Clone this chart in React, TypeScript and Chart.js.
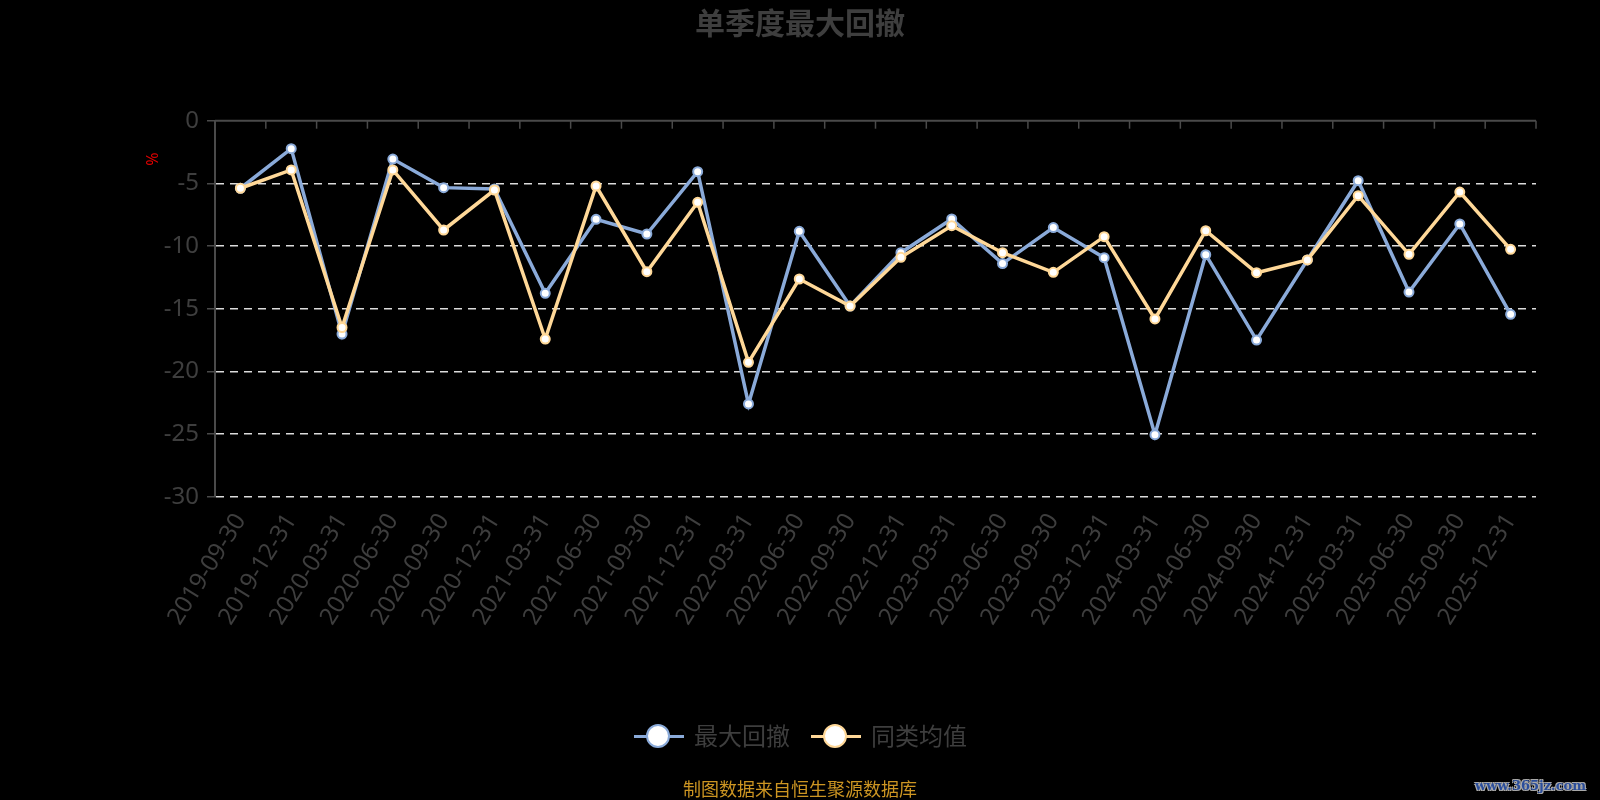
import React, { useEffect, useRef } from 'react';
import { Chart, registerables } from 'chart.js';

Chart.register(...registerables);

const categories: string[] = [
  '2019-09-30', '2019-12-31', '2020-03-31', '2020-06-30', '2020-09-30', '2020-12-31',
  '2021-03-31', '2021-06-30', '2021-09-30', '2021-12-31', '2022-03-31', '2022-06-30',
  '2022-09-30', '2022-12-31', '2023-03-31', '2023-06-30', '2023-09-30', '2023-12-31',
  '2024-03-31', '2024-06-30', '2024-09-30', '2024-12-31', '2025-03-31', '2025-06-30',
  '2025-09-30', '2025-12-31',
];

const maxDrawdown: number[] = [
  -5.39, -2.23, -17.02, -3.06, -5.34, -5.45, -13.77, -7.87, -9.04, -4.07, -22.6, -8.83,
  -14.79, -10.53, -7.84, -11.4, -8.53, -10.93, -25.05, -10.69, -17.5, -11.11, -4.79, -13.67,
  -8.24, -15.45,
];

const peerAverage: number[] = [
  -5.39, -3.93, -16.5, -3.93, -8.72, -5.53, -17.42, -5.21, -12.05, -6.51, -19.28, -12.63,
  -14.79, -10.9, -8.38, -10.53, -12.1, -9.25, -15.82, -8.78, -12.13, -11.11, -5.98, -10.66,
  -5.69, -10.26,
];

const seriesNames: string[] = ['最大回撤', '同类均值'];
const yMin = -30;
const yMax = 0;
const yStep = 5;

const BLUE = '#8aaad9';
const ORANGE = '#ffd898';
const AXIS = '#4a4a4a';
const TEXT = '#3e3e3e';
const FONT = "'Noto Sans', 'Noto Sans CJK SC', sans-serif";

const zeroAxisPlugin = {
  id: 'zeroAxis',
  beforeDatasetsDraw(chart: any) {
    const { ctx, chartArea, scales } = chart;
    const x = scales.x;
    const y = scales.y;
    const y0 = y.getPixelForValue(0);
    ctx.save();
    ctx.strokeStyle = AXIS;
    ctx.lineWidth = 2;
    ctx.setLineDash([]);
    ctx.beginPath();
    ctx.moveTo(chartArea.left, y0);
    ctx.lineTo(chartArea.right, y0);
    ctx.stroke();
    const half = (x.getPixelForValue(1) - x.getPixelForValue(0)) / 2;
    ctx.lineWidth = 1.5;
    for (let i = 0; i <= categories.length; i++) {
      const px = i < categories.length ? x.getPixelForValue(i) - half : x.getPixelForValue(i - 1) + half;
      ctx.beginPath();
      ctx.moveTo(px, y0);
      ctx.lineTo(px, y0 + 8);
      ctx.stroke();
    }
    ctx.restore();
  },
};

export default function App() {
  const canvasRef = useRef<HTMLCanvasElement | null>(null);

  useEffect(() => {
    document.body.style.margin = '0';
    document.body.style.background = '#000';
    const canvas = canvasRef.current;
    if (!canvas) return;
    const chart = new Chart(canvas, {
      type: 'line',
      data: {
        labels: categories,
        datasets: [
          {
            label: seriesNames[0],
            data: maxDrawdown,
            borderColor: BLUE,
            backgroundColor: '#ffffff',
            borderWidth: 3.5,
            pointRadius: 4.5,
            pointBorderWidth: 2,
            pointBackgroundColor: '#ffffff',
            pointBorderColor: BLUE,
            tension: 0,
            order: 2,
          },
          {
            label: seriesNames[1],
            data: peerAverage,
            borderColor: ORANGE,
            backgroundColor: '#ffffff',
            borderWidth: 3.5,
            pointRadius: 4.5,
            pointBorderWidth: 2,
            pointBackgroundColor: '#ffffff',
            pointBorderColor: ORANGE,
            tension: 0,
            order: 1,
          },
        ],
      },
      options: {
        animation: false,
        responsive: false,
        maintainAspectRatio: false,
        layout: { padding: { top: 120.7, right: 64, bottom: 0, left: 0 } },
        plugins: {
          legend: { display: false },
          title: { display: false },
          tooltip: { enabled: false },
        },
        scales: {
          x: {
            type: 'category',
            offset: true,
            grid: { display: false },
            border: { display: false },
            ticks: {
              autoSkip: false,
              minRotation: 58,
              maxRotation: 58,
              color: TEXT,
              padding: 4,
              font: { family: FONT, size: 24 },
            },
            afterFit(scale: any) {
              scale.height = 800 - 496.7;
            },
          },
          y: {
            min: yMin,
            max: yMax,
            ticks: {
              stepSize: yStep,
              color: TEXT,
              padding: 8,
              font: { family: FONT, size: 24 },
            },
            grid: {
              color: (c: any) => (c.tick && c.tick.value === 0 ? 'rgba(0,0,0,0)' : '#dcdcdc'),
              lineWidth: 1.5,
              drawTicks: true,
              tickLength: 8,
              tickColor: AXIS,
              tickWidth: 1.5,
              tickBorderDash: [],
            },
            border: { display: true, color: AXIS, width: 2, dash: [8, 6] },
            afterFit(scale: any) {
              scale.width = 215;
            },
          },
        },
      },
      plugins: [zeroAxisPlugin],
    });
    return () => chart.destroy();
  }, []);

  const legendItem = (left: number, color: string, name: string) => (
    <div style={{ position: 'absolute', left, top: 724, height: 24, display: 'flex', alignItems: 'center' }}>
      <div style={{ position: 'relative', width: 50, height: 24 }}>
        <div style={{ position: 'absolute', left: 0, top: 11, width: 50, height: 2.5, background: color }} />
        <div
          style={{
            position: 'absolute', left: 12, top: 0, width: 20, height: 20, borderRadius: '50%',
            background: '#fff', border: `2px solid ${color}`,
          }}
        />
      </div>
      <span style={{ marginLeft: 10, fontFamily: FONT, fontSize: 24, color: TEXT, lineHeight: '24px' }}>{name}</span>
    </div>
  );

  return (
    <div style={{ position: 'relative', width: 1600, height: 800, background: '#000', overflow: 'hidden' }}>
      <canvas ref={canvasRef} width={1600} height={800} style={{ position: 'absolute', left: 0, top: 0 }} />
      <div
        style={{
          position: 'absolute', left: 0, width: 1600, top: 4, textAlign: 'center',
          fontFamily: FONT, fontWeight: 'bold', fontSize: 30, color: TEXT, lineHeight: '38px',
        }}
      >
        单季度最大回撤
      </div>
      <div
        style={{
          position: 'absolute', left: 143, top: 150, width: 18, height: 18, color: '#e00000',
          fontFamily: FONT, fontSize: 16, lineHeight: '18px', textAlign: 'center', transform: 'rotate(-90deg)',
        }}
      >
        %
      </div>
      {legendItem(634, BLUE, seriesNames[0])}
      {legendItem(811, ORANGE, seriesNames[1])}
      <div
        style={{
          position: 'absolute', left: 0, width: 1600, top: 777, textAlign: 'center',
          fontFamily: FONT, fontSize: 18, color: '#cc9522', lineHeight: '24px',
        }}
      >
        制图数据来自恒生聚源数据库
      </div>
      <div
        style={{
          position: 'absolute', right: 14, top: 776, fontFamily: "'DejaVu Serif', serif", fontWeight: 'bold',
          fontSize: 13, color: '#2a4d9b', lineHeight: '20px',
          textShadow: '1px 1px 0 #aaa, -1px -1px 0 #aaa, 1px -1px 0 #aaa, -1px 1px 0 #aaa',
        }}
      >
        www.365jz.com
      </div>
    </div>
  );
}
